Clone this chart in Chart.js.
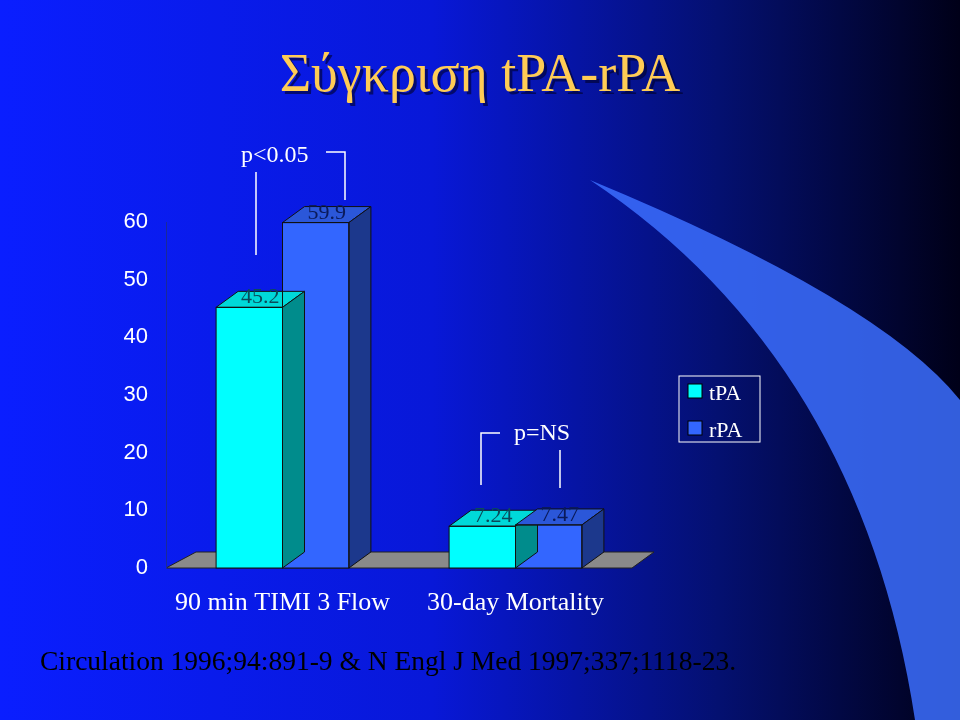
<!DOCTYPE html>
<html><head><meta charset="utf-8">
<script src="https://cdn.jsdelivr.net/npm/chart.js@4"></script>
<style>
html,body{margin:0;padding:0;}
body{width:960px;height:720px;background:linear-gradient(90deg,#0a1eff 0%,#0818d8 45%,#041070 75%,#000018 100%);}
</style></head>
<body>
<canvas id="grafico" width="960" height="720"></canvas>
<script>
const categorias = ['90 min TIMI 3 Flow', '30-day Mortality'];
const tpa = [45.2, 7.24];
const rpa = [59.9, 7.47];
const etiquetasTpa = ['45.2', '7.24'];
const etiquetasRpa = ['59.9', '7.47'];

const DX = 22, DY = -16;

function sombra(hex, f) {
    const n = parseInt(hex.slice(1), 16);
    const r = Math.round(((n >> 16) & 255) * f), g = Math.round(((n >> 8) & 255) * f), b = Math.round((n & 255) * f);
    return `rgb(${r},${g},${b})`;
}

const fondo = {
    id: 'fondo',
    beforeDraw(chart) {
        const c = chart.ctx;
        c.save();
        // swoosh decorativo
        c.fillStyle = 'rgba(60,110,255,0.85)';
        c.beginPath();
        c.moveTo(590, 180);
        c.quadraticCurveTo(880, 300, 960, 400);
        c.lineTo(960, 720);
        c.lineTo(915, 720);
        c.quadraticCurveTo(860, 360, 590, 180);
        c.fill();
        // suelo
        const x = chart.scales.x, y = chart.scales.y;
        const y0 = y.getPixelForValue(0);
        c.fillStyle = '#8a8a8a';
        c.strokeStyle = '#222';
        c.beginPath();
        c.moveTo(x.left, y0);
        c.lineTo(x.right, y0);
        c.lineTo(x.right + DX, y0 + DY);
        c.lineTo(x.left + DX + 8, y0 + DY);
        c.closePath();
        c.fill(); c.stroke();
        c.restore();
    },
    afterDatasetsDraw(chart) {
        const c = chart.ctx;
        c.save();
        chart.data.datasets.forEach((ds, i) => {
            chart.getDatasetMeta(i).data.forEach((bar, j) => {
                const l = bar.x - bar.width / 2, r = bar.x + bar.width / 2, t = bar.y, b = bar.base;
                c.strokeStyle = '#111';
                c.lineWidth = 1;
                c.fillStyle = sombra(ds.backgroundColor, 0.85);
                c.beginPath();
                c.moveTo(l, t); c.lineTo(r, t); c.lineTo(r + DX, t + DY); c.lineTo(l + DX, t + DY); c.closePath();
                c.fill(); c.stroke();
                c.fillStyle = sombra(ds.backgroundColor, 0.55);
                c.beginPath();
                c.moveTo(r, t); c.lineTo(r + DX, t + DY); c.lineTo(r + DX, b + DY); c.lineTo(r, b); c.closePath();
                c.fill(); c.stroke();
                c.strokeRect(l, t, r - l, b - t);
                c.fillStyle = i === 0 ? '#0a4a5a' : '#0a1a5a';
                c.font = '22px "Liberation Serif"';
                c.textAlign = 'center';
                c.textBaseline = 'alphabetic';
                c.fillText(ds.etiquetas[j], bar.x + DX / 2, t + DY + 12);
            });
        });
        // corchetes de significación
        c.strokeStyle = '#ffffff';
        c.lineWidth = 1.5;
        c.beginPath();
        c.moveTo(256, 255); c.lineTo(256, 172);
        c.moveTo(326, 152); c.lineTo(345, 152); c.lineTo(345, 200);
        c.moveTo(481, 485); c.lineTo(481, 433); c.lineTo(500, 433);
        c.moveTo(560, 450); c.lineTo(560, 488);
        c.stroke();
        c.fillStyle = '#ffffff';
        c.font = '24px "Liberation Serif"';
        c.textAlign = 'left';
        c.fillText('p<0.05', 241, 162);
        c.fillText('p=NS', 514, 440);
        // titulo
        c.font = '54px "Liberation Serif"';
        c.textAlign = 'center';
        c.fillStyle = 'rgba(0,0,40,0.6)';
        c.fillText('Σύγκριση tPA-rPA', 483, 94);
        c.fillStyle = '#ffcc55';
        c.fillText('Σύγκριση tPA-rPA', 480, 91);
        // leyenda
        c.strokeStyle = '#ffffff';
        c.lineWidth = 1;
        c.strokeRect(679, 376, 81, 66);
        c.font = '22px "Liberation Serif"';
        c.textAlign = 'left';
        chart.data.datasets.forEach((ds, i) => {
            const yy = 392 + i * 37;
            c.fillStyle = ds.backgroundColor;
            c.fillRect(688, yy - 8, 14, 14);
            c.strokeStyle = '#000';
            c.strokeRect(688, yy - 8, 14, 14);
            c.fillStyle = '#ffffff';
            c.fillText(ds.label, 709, yy + 8);
        });
        // cita
        c.fillStyle = '#000000';
        c.font = '27.5px "Liberation Serif"';
        c.fillText('Circulation 1996;94:891-9 & N Engl J Med 1997;337;1118-23.', 40, 670);
        c.restore();
    }
};

const ctx = document.getElementById('grafico').getContext('2d');
new Chart(ctx, {
    type: 'bar',
    data: {
        labels: categorias,
        datasets: [
            { label: 'tPA', data: tpa, etiquetas: etiquetasTpa, backgroundColor: '#00ffff', borderWidth: 0 },
            { label: 'rPA', data: rpa, etiquetas: etiquetasRpa, backgroundColor: '#3366ff', borderWidth: 0 }
        ]
    },
    options: {
        responsive: false,
        animation: false,
        layout: { padding: { top: 222, right: 328, left: 0, bottom: 0 } },
        plugins: { legend: { display: false }, tooltip: { enabled: false } },
        categoryPercentage: 0.57,
        barPercentage: 1,
        scales: {
            y: {
                min: 0, max: 60,
                ticks: { stepSize: 10, color: '#ffffff', font: { family: 'Liberation Sans', size: 22 }, padding: 10 },
                grid: { display: false },
                border: { color: '#1a2a9a' },
                afterFit(s) { s.width = 166; }
            },
            x: {
                ticks: { color: '#ffffff', font: { family: 'Liberation Serif', size: 26 }, padding: 12 },
                grid: { display: false },
                border: { display: false },
                afterFit(s) { s.height = 152; }
            }
        }
    },
    plugins: [fondo]
});
</script>
</body></html>
